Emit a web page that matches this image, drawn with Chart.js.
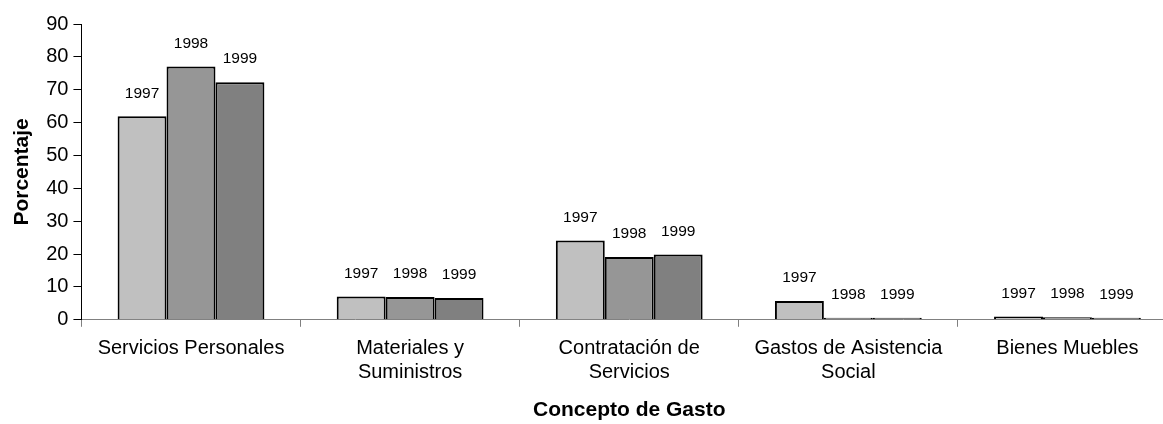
<!DOCTYPE html>
<html>
<head>
    <title>Concepto de Gasto</title>
    <script src="https://cdn.jsdelivr.net/npm/chart.js@4/dist/chart.umd.min.js"></script>
    <style>
        body { margin: 0; padding: 0; overflow: hidden; background: #fff; }
        #grafica { display: block; }
    </style>
</head>
<body>
    <canvas id="grafica" width="1177" height="424"></canvas>
    <script>
        // Datos
        var conceptos = [
            'Servicios Personales',
            ['Materiales y', 'Suministros'],
            ['Contratación de', 'Servicios'],
            ['Gastos de Asistencia', 'Social'],
            'Bienes Muebles'
        ];
        var anios = ['1997', '1998', '1999'];
        var valores1997 = [61.9, 7.1, 24.1, 5.7, 1.0];
        var valores1998 = [77.1, 6.9, 19.1, 0.2, 0.8];
        var valores1999 = [72.3, 6.6, 19.9, 0.3, 0.6];
        var ticksY = [0, 10, 20, 30, 40, 50, 60, 70, 80, 90];

        var colores = ['#c0c0c0', '#969696', '#808080'];
        var fuente = "'Liberation Sans', Arial, sans-serif";

        // Escribe el año encima de cada barra
        var etiquetasAnio = {
            id: 'etiquetasAnio',
            afterDatasetsDraw: function (chart) {
                var ctx = chart.ctx;
                ctx.save();
                ctx.font = '15.5px ' + fuente;
                ctx.fillStyle = '#000';
                ctx.textAlign = 'center';
                ctx.textBaseline = 'middle';
                chart.data.datasets.forEach(function (ds, i) {
                    chart.getDatasetMeta(i).data.forEach(function (barra) {
                        ctx.fillText(ds.label, barra.x, barra.y - 23);
                    });
                });
                ctx.restore();
            }
        };

        new Chart(document.getElementById('grafica'), {
            type: 'bar',
            data: {
                labels: conceptos,
                datasets: [valores1997, valores1998, valores1999].map(function (v, i) {
                    return {
                        label: anios[i],
                        data: v,
                        backgroundColor: colores[i],
                        borderColor: '#000',
                        borderWidth: 2,
                        borderSkipped: 'bottom',
                        minBarLength: 2,
                        categoryPercentage: 0.67,
                        barPercentage: 1.0
                    };
                })
            },
            options: {
                responsive: false,
                animation: false,
                layout: { padding: { top: 24, left: 10, right: 0, bottom: 1 } },
                plugins: {
                    legend: { display: false },
                    tooltip: { enabled: false }
                },
                scales: {
                    x: {
                        grid: {
                            offset: true,
                            drawOnChartArea: false,
                            tickLength: 7,
                            color: '#808080'
                        },
                        border: { color: '#808080', width: 1 },
                        ticks: {
                            color: '#000',
                            font: { family: fuente, size: 20, lineHeight: 1.2 },
                            maxRotation: 0,
                            autoSkip: false,
                            padding: 10
                        },
                        title: {
                            display: true,
                            text: 'Concepto de Gasto',
                            color: '#000',
                            font: { family: fuente, size: 21, weight: 'bold', lineHeight: 1.2 },
                            padding: { top: 3, bottom: 0 }
                        }
                    },
                    y: {
                        min: 0,
                        max: 90,
                        afterBuildTicks: function (eje) {
                            eje.ticks = ticksY.map(function (t) { return { value: t }; });
                        },
                        grid: {
                            drawOnChartArea: false,
                            tickLength: 8,
                            color: '#000'
                        },
                        border: { color: '#000', width: 1 },
                        ticks: {
                            color: '#000',
                            font: { family: fuente, size: 20 },
                            padding: 5
                        },
                        title: {
                            display: true,
                            text: 'Porcentaje',
                            color: '#000',
                            font: { family: fuente, size: 21, weight: 'bold' },
                            padding: { top: 0, bottom: 6 }
                        }
                    }
                }
            },
            plugins: [etiquetasAnio]
        });
    </script>
</body>
</html>
